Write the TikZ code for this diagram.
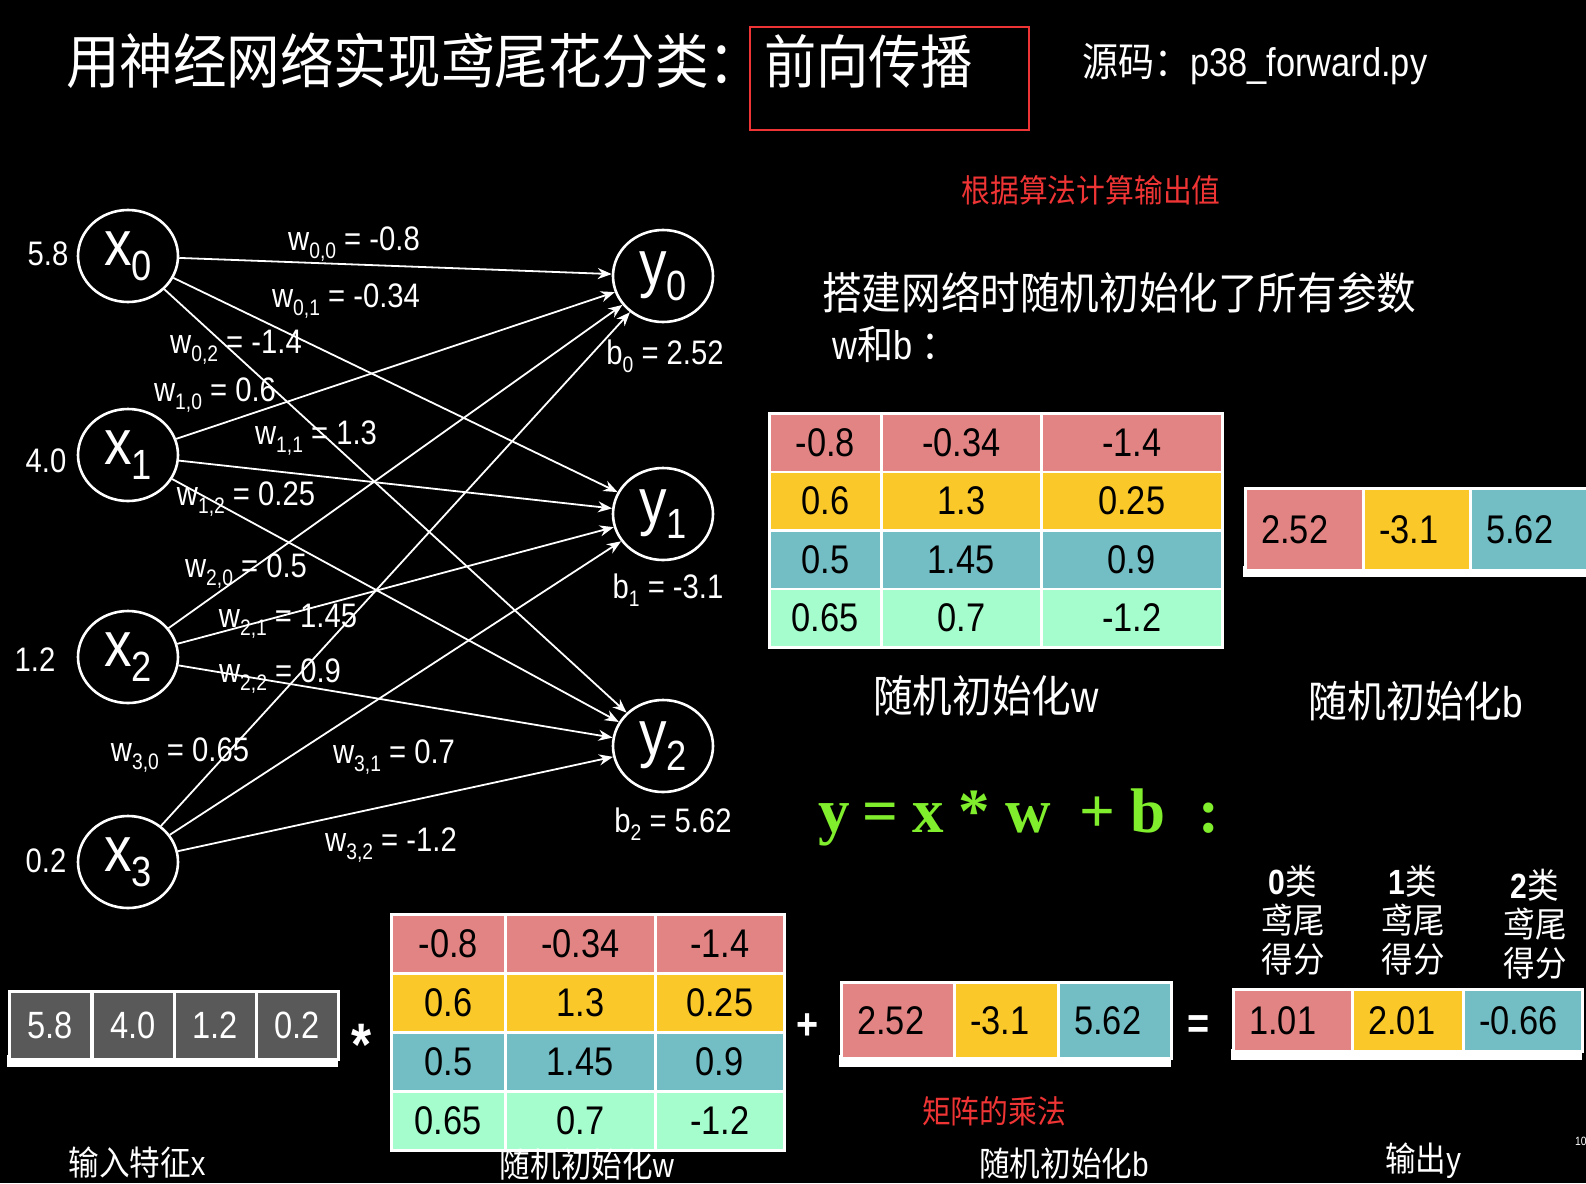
\documentclass[tikz,border=0pt]{standalone}
\usepackage{fontspec}
\setmainfont{Liberation Sans}[FakeStretch=0.86]
\newfontfamily\cjk{Noto Sans CJK SC}[FakeStretch=0.9]
\newfontfamily\formulafont{Liberation Serif}
\usetikzlibrary{shapes.geometric,arrows.meta,positioning}

\definecolor{rowred}{RGB}{226,132,132}
\definecolor{rowyellow}{RGB}{250,200,40}
\definecolor{rowteal}{RGB}{115,190,196}
\definecolor{rowmint}{RGB}{165,253,206}
\definecolor{cellgray}{RGB}{89,89,89}
\definecolor{alertred}{RGB}{238,52,52}
\definecolor{formulagreen}{RGB}{128,238,44}

\newcommand{\fsize}[1]{\fontsize{#1}{#1}\selectfont}
\newcommand{\lsub}[1]{\raisebox{-0.45ex}{\scalebox{0.66}{#1}}}

\begin{document}
\begin{tikzpicture}[x=1pt,y=-1pt,
    every node/.style={inner sep=0pt},
    neuron/.style ={ellipse, draw=white, line width=2.6pt, minimum width=100pt, minimum height=92pt, text=white, font=\fsize{64}},
    inval/.style ={text=white, font=\fsize{34}},
    weight/.style ={text=white, font=\fsize{34}},
    edge/.style ={white, line width=1.8pt, -{Stealth[length=14pt,width=11pt]}},
    cell/.style ={draw=white, line width=2.5pt, anchor=north west, font=\fsize{40}},
    num/.style ={font=\fsize{40}},
    caption/.style ={text=white, font=\cjk\fsize{44}},
    smallcap/.style ={text=white, font=\cjk\fsize{34}},
    note/.style ={text=alertred, font=\cjk\fsize{32}},
    sign/.style ={text=white, font=\bfseries\fsize{44}}]

  \fill[black] (0,0) rectangle (1586,1183);
  \useasboundingbox (0,0) rectangle (1586,1183);

  % title
  \node[anchor=west, text=white, font=\cjk\fsize{59.5}] (title) at (66,61) {用神经网络实现鸢尾花分类：};
  \node[draw=alertred, line width=2pt, minimum width=279pt, minimum height=103pt] (titlebox) at (889.5,78.5) {};
  \node[anchor=west, text=white, font=\cjk\fsize{58}] (forward) at (764,61) {前向传播};
  \node[anchor=west, text=white, font=\fsize{40}] (source) at (1082,64) {{\cjk 源码：}p38\_forward.py};

  % network
  \node[neuron] (x0) at (128,256) {x\lsub{0}};
  \node[neuron] (x1) at (128,455) {x\lsub{1}};
  \node[neuron] (x2) at (128,657) {x\lsub{2}};
  \node[neuron] (x3) at (128,862) {x\lsub{3}};
  \node[neuron] (y0) at (663,276) {y\lsub{0}};
  \node[neuron] (y1) at (663,514) {y\lsub{1}};
  \node[neuron] (y2) at (663,746) {y\lsub{2}};

  \node[inval] (in0) at (48,254) {5.8};
  \node[inval] (in1) at (46,461) {4.0};
  \node[inval] (in2) at (35,660) {1.2};
  \node[inval] (in3) at (46,861) {0.2};

  \foreach \i in {0,...,3}
    \foreach \j in {0,1,2}
      \draw[edge] (x\i) -- (y\j);

  \node[weight] (w00) at (354,244) {w\lsub{0,0} = -0.8};
  \node[weight] (w01) at (346,301) {w\lsub{0,1} = -0.34};
  \node[weight] (w02) at (236,347) {w\lsub{0,2} = -1.4};
  \node[weight] (w10) at (215,395) {w\lsub{1,0} = 0.6};
  \node[weight] (w11) at (316,438) {w\lsub{1,1} = 1.3};
  \node[weight] (w12) at (246,499) {w\lsub{1,2} = 0.25};
  \node[weight] (w20) at (246,571) {w\lsub{2,0} = 0.5};
  \node[weight] (w21) at (288,621) {w\lsub{2,1} = 1.45};
  \node[weight] (w22) at (280,676) {w\lsub{2,2} = 0.9};
  \node[weight] (w30) at (180,755) {w\lsub{3,0} = 0.65};
  \node[weight] (w31) at (394,757) {w\lsub{3,1} = 0.7};
  \node[weight] (w32) at (391,845) {w\lsub{3,2} = -1.2};

  \node[weight] (b0) at (665,356) {b\lsub{0} = 2.52};
  \node[weight] (b1) at (668,590) {b\lsub{1} = -3.1};
  \node[weight] (b2) at (673,824) {b\lsub{2} = 5.62};

  % right side texts
  \node[note] (algo) at (1091,190) {根据算法计算输出值};
  \node[anchor=west, text=white, font=\cjk\fsize{44}] (init) at (822,293) {搭建网络时随机初始化了所有参数};
  \node[anchor=west, text=white, font=\fsize{40}] (wb) at (832,344) {w{\cjk 和}b {\cjk ：}};

  % top weight matrix
  \foreach \r/\c/\a/\b/\d in {0/rowred/-0.8/-0.34/-1.4, 1/rowyellow/0.6/1.3/0.25, 2/rowteal/0.5/1.45/0.9, 3/rowmint/0.65/0.7/-1.2} {
    \node[cell, fill=\c, minimum width=112pt, minimum height=58.5pt] (tw\r a) at (768,{412+58.5*\r}) {\a};
    \node[cell, fill=\c, minimum width=160pt, minimum height=58.5pt] (tw\r b) at (880,{412+58.5*\r}) {\b};
    \node[cell, fill=\c, minimum width=181pt, minimum height=58.5pt] (tw\r c) at (1040,{412+58.5*\r}) {\d};
  }
  \node[caption] (capw) at (986,696) {随机初始化{\rmfamily w}};

  % top bias vector
  \fill[white] (1243,566) rectangle (1590,577);
  \foreach \x/\w/\v/\c [count=\k from 0] in {1244/118/2.52/rowred, 1362/107/-3.1/rowyellow, 1469/120/5.62/rowteal} {
    \node[cell, fill=\c, minimum width=\w pt, minimum height=82pt] (tb\k) at (\x,487) {};
    \node[num, right=17pt of tb\k.west] (tbv\k) {\v};
  }
  \node[caption, font=\cjk\fsize{43}] (capb) at (1416,701) {随机初始化{\rmfamily b}};

  % formula
  \node[anchor=west, text=formulagreen, font=\formulafont\bfseries\fsize{63}] (formula) at (818,817)
    {y\hspace{13pt}=\hspace{14pt}x\hspace{14pt}*\hspace{16pt}w\hspace{28pt}+\hspace{15pt}b\hspace{34pt}:};

  % input vector
  \fill[white] (7,1055) rectangle (338,1067);
  \foreach \x/\v [count=\k from 0] in {8/5.8, 91/4.0, 173/1.2, 255/0.2}
    \node[cell, fill=cellgray, text=white, font=\fsize{38}, minimum width=82pt, minimum height=68pt] (xv\k) at (\x,990) {\v};
  \node[smallcap] (capx) at (137,1163) {输入特征{\rmfamily x}};

  \node[sign, font=\bfseries\fsize{60}] (times) at (362,1045) {*};

  % bottom weight matrix
  \foreach \r/\c/\a/\b/\d in {0/rowred/-0.8/-0.34/-1.4, 1/rowyellow/0.6/1.3/0.25, 2/rowteal/0.5/1.45/0.9, 3/rowmint/0.65/0.7/-1.2} {
    \node[cell, fill=\c, minimum width=114pt, minimum height=59pt] (bw\r a) at (390,{913+59*\r}) {\a};
    \node[cell, fill=\c, minimum width=150pt, minimum height=59pt] (bw\r b) at (504,{913+59*\r}) {\b};
    \node[cell, fill=\c, minimum width=129pt, minimum height=59pt] (bw\r c) at (654,{913+59*\r}) {\d};
  }
  \node[smallcap] (capbw) at (587,1165) {随机初始化{\rmfamily w}};

  \node[sign] (plus) at (808,1027) {+};

  % bottom bias vector
  \fill[white] (839,1055) rectangle (1171,1067);
  \foreach \x/\w/\v/\c [count=\k from 0] in {840/113/2.52/rowred, 953/104/-3.1/rowyellow, 1057/113/5.62/rowteal} {
    \node[cell, fill=\c, minimum width=\w pt, minimum height=76pt] (bb\k) at (\x,981) {};
    \node[num, right=17pt of bb\k.west] (bbv\k) {\v};
  }
  \node[note] (matmul) at (994,1111) {矩阵的乘法};
  \node[smallcap] (capbb) at (1064,1164) {随机初始化{\rmfamily b}};

  \node[sign] (equals) at (1199,1027) {=};

  % output vector
  \fill[white] (1231,1049) rectangle (1582,1060);
  \foreach \x/\w/\v/\c [count=\k from 0] in {1232/119/1.01/rowred, 1351/111/2.01/rowyellow, 1462/119/-0.66/rowteal} {
    \node[cell, fill=\c, minimum width=\w pt, minimum height=62pt] (yo\k) at (\x,988) {};
    \node[num, right=17pt of yo\k.west] (yov\k) {\v};
  }
  \foreach \x/\y/\n [count=\k from 0] in {1293/920/0, 1413/920/1, 1535/924/2}
    \node[text=white, align=center, font=\cjk\fsize{35}] (score\k) at (\x,\y) {{\rmfamily\bfseries\n}类\\[4pt]鸢尾\\[4pt]得分};
  \node[smallcap] (capy) at (1423,1161) {输出{\rmfamily y}};

  \node[anchor=west, text=white, font=\fsize{12}] (page) at (1575,1141) {10};
\end{tikzpicture}
\end{document}
